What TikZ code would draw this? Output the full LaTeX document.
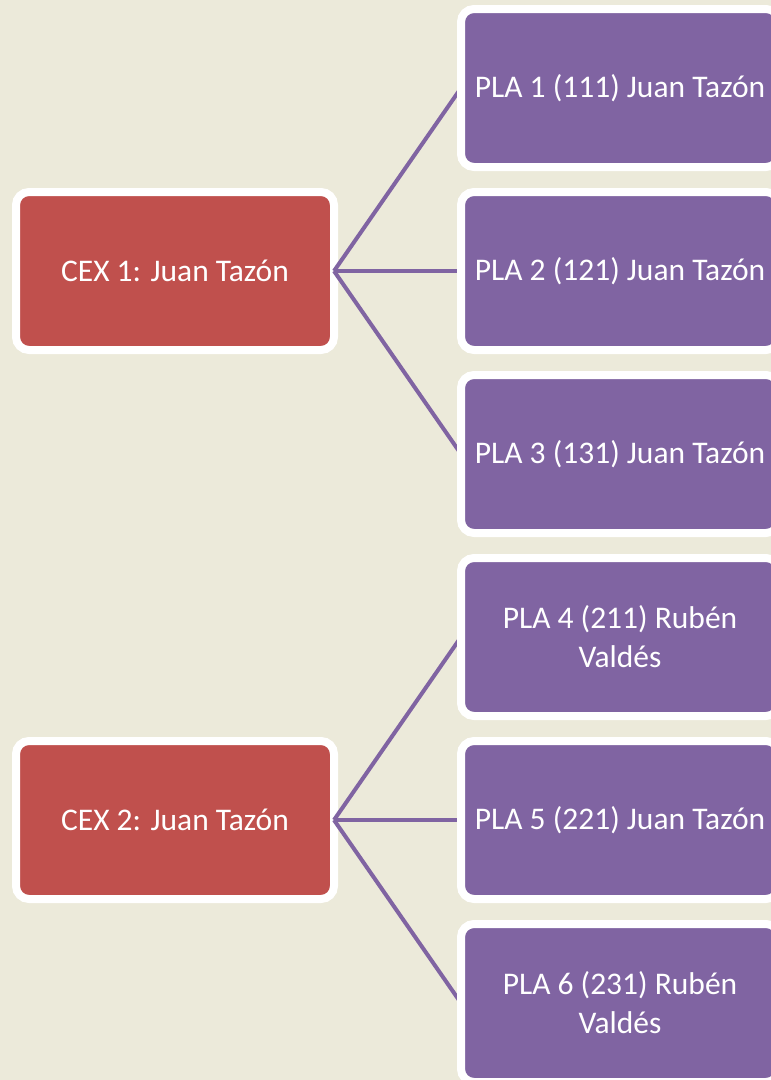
\documentclass[tikz,border=0pt]{standalone}
\usepackage{fontspec}
\setmainfont{Carlito}
\usetikzlibrary{shadows}
\definecolor{bgc}{HTML}{ECEADA}
\definecolor{cexc}{HTML}{C0504D}
\definecolor{plac}{HTML}{8064A2}
\pgfdeclarelayer{bg}
\pgfdeclarelayer{cexl}
\pgfdeclarelayer{lines}
\pgfsetlayers{bg,cexl,lines,main}
\begin{document}
\begin{tikzpicture}[x=1pt,y=-1pt,
  box/.style={draw=white, line width=8pt, rounded corners=13pt,
    minimum width=318pt, minimum height=158pt, inner sep=0pt, outer sep=0pt,
    text=white, align=center, font=\fontsize{31.5}{39}\selectfont,
    drop shadow={shadow xshift=1pt, shadow yshift=-3pt, opacity=0.25, fill=black}},
  cex/.style={box, fill=cexc},
  pla/.style={box, fill=plac},
  conn/.style={draw=plac, line width=4pt}]
\useasboundingbox (0,0) rectangle (771,1080);
\clip (0,0) rectangle (771,1080);
\begin{pgfonlayer}{bg}
\fill[bgc] (0,0) rectangle (771,1080);
\end{pgfonlayer}
\begin{pgfonlayer}{cexl}
\node[cex] (c1) at (175,271) {CEX 1: Juan Tazón};
\node[cex] (c2) at (175,820) {CEX 2: Juan Tazón};
\end{pgfonlayer}
\node[pla] (p1) at (620,88) {PLA 1 (111) Juan Tazón};
\node[pla] (p2) at (620,271) {PLA 2 (121) Juan Tazón};
\node[pla] (p3) at (620,454) {PLA 3 (131) Juan Tazón};
\node[pla] (p4) at (620,637) {PLA 4 (211) Rubén\\Valdés};
\node[pla] (p5) at (620,820) {PLA 5 (221) Juan Tazón};
\node[pla] (p6) at (620,1003) {PLA 6 (231) Rubén\\Valdés};
\begin{pgfonlayer}{lines}
\draw[conn] (c1.east) -- (p1.west);
\draw[conn] (c1.east) -- (p2.west);
\draw[conn] (c1.east) -- (p3.west);
\draw[conn] (c2.east) -- (p4.west);
\draw[conn] (c2.east) -- (p5.west);
\draw[conn] (c2.east) -- (p6.west);
\end{pgfonlayer}
\end{tikzpicture}
\end{document}
